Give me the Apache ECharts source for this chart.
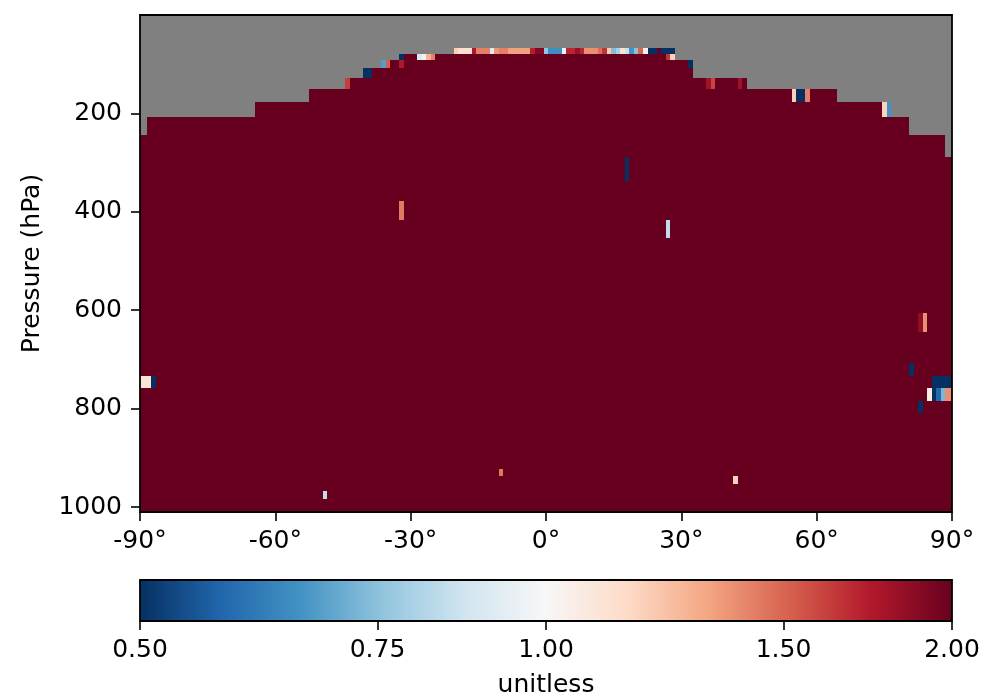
<!DOCTYPE html>
<html><head><meta charset="utf-8">
<script src="https://cdn.jsdelivr.net/npm/echarts@6/dist/echarts.min.js"></script>
<style>html,body{margin:0;padding:0;background:#fff}#c{width:1005px;height:700px}</style>
</head><body><div id="c"></div>
<script>
// ---------------- DATA ----------------
// latitude grid: cell centres every 1 degree from -90 to 90
const latStart = -90, latEnd = 90, latStep = 1;
// model level edge pressures (hPa), surface upward
const pressureEdges = [1013.25, 998.051, 982.765, 967.474, 952.183, 936.893, 921.602, 906.311,
  891.022, 875.731, 860.442, 845.151, 829.862, 809.494, 784.040, 758.586, 733.133, 707.688,
  682.247, 644.105, 605.974, 567.866, 529.778, 491.718, 453.693, 415.704, 377.761, 339.874,
  288.083, 244.875, 208.152, 176.930, 150.393, 127.837, 108.663, 92.366, 78.512, 66.603];
// highest valid level (top edge pressure, hPa) per latitude band [latFrom, latTo, pTop]
const validTop = [[-90, -89, 244.875], [-88, -65, 208.152], [-64, -53, 176.930], [-52, -45, 150.393],
  [-44, -41, 127.837], [-40, -37, 108.663], [-36, -33, 92.366], [-32, -21, 78.512], [-20, 28, 66.603],
  [29, 32, 92.366], [33, 44, 127.837], [45, 64, 150.393], [65, 76, 176.930], [77, 80, 208.152],
  [81, 88, 244.875], [89, 90, 288.083]];
// value of all valid cells not listed below (at/above colour-bar maximum)
const saturatedValue = 2.0;
// cells that differ: [lat, pressure inside the level (hPa), value]
const anomalies = [
  [-20,72,1.18],[-19,72,1.12],[-18,72,1.12],[-17,72,1.12],[-16,72,1.75],[-15,72,1.42],[-14,72,1.42],
  [-13,72,1.42],[-12,72,0.92],[-11,72,1.36],[-10,72,1.42],[-9,72,1.42],[-8,72,1.33],[-7,72,1.33],
  [-6,72,1.33],[-5,72,1.33],[-4,72,1.33],[-3,72,1.72],[-2,72,1.9],[-1,72,1.9],[0,72,0.76],[1,72,0.65],
  [2,72,0.65],[3,72,0.65],[4,72,0.97],[5,72,1.7],[6,72,1.7],[7,72,1.82],[8,72,1.7],[9,72,1.38],
  [10,72,1.38],[11,72,1.38],[12,72,1.48],[13,72,1.65],[14,72,1.2],[15,72,0.74],[16,72,0.8],[17,72,1.1],
  [18,72,0.86],[19,72,0.66],[20,72,0.75],[21,72,1.5],[22,72,1.03],[23,72,0.45],[24,72,0.45],[25,72,2.0],
  [26,72,0.45],[27,72,0.45],[28,72,0.45],
  [-32,85,0.45],[-28,85,0.9],[-27,85,0.97],[-26,85,1.28],[-25,85,1.42],[27,85,1.65],[28,85,1.18],
  [-36,100,0.68],[-35,100,1.52],[-32,100,1.75],[32,100,0.45],
  [-40,118,0.45],[-39,118,0.45],
  [-44,140,1.62],[36,140,1.8],[37,140,1.6],[43,140,1.8],
  [55,165,1.18],[56,165,0.45],[57,165,0.45],[58,165,1.42],
  [75,190,1.17],[76,190,0.66],
  [18,315,0.45],[-32,395,1.44],[27,435,0.84],
  [83,625,1.85],[84,625,1.38],
  [81,720,0.45],
  [-90,745,1.1],[-89,745,1.1],[-88,745,1.1],[-87,745,0.45],[86,745,0.45],[87,745,0.45],[88,745,0.45],[89,745,0.45],[90,745,0.45],
  [85,770,1.05],[86,770,0.45],[87,770,0.58],[88,770,0.73],[89,770,1.38],[90,770,1.38],
  [83,795,0.48],
  [-10,929,1.45],[42,945,1.18],[-49,975,0.84]
];
const xTicks = [-90, -60, -30, 0, 30, 60, 90];
const yTicks = [200, 400, 600, 800, 1000];
const colorbarTicks = [0.5, 0.75, 1.0, 1.5, 2.0];
const colorbarRange = [0.5, 2.0];
const colorbarTitle = 'unitless';
const yTitle = 'Pressure (hPa)';
const rdbuR = ['#053061','#2166ac','#4393c3','#92c5de','#d1e5f0','#f7f7f7','#fddbc7','#f4a582','#d6604d','#b2182b','#67001f'];

// ---------------- helpers ----------------
const FONT = 'DejaVu Sans';
const FS = 25;
const toT = v => Math.log2(v / colorbarRange[0]) / Math.log2(colorbarRange[1] / colorbarRange[0]) * 2; // 0..2
function hex2rgb(h){return [parseInt(h.slice(1,3),16),parseInt(h.slice(3,5),16),parseInt(h.slice(5,7),16)];}
const stopsRGB = rdbuR.map(hex2rgb);
function colorOf(v){
  let t = Math.log(v / colorbarRange[0]) / Math.log(colorbarRange[1] / colorbarRange[0]);
  t = Math.max(0, Math.min(1, t));
  const f = t * (stopsRGB.length - 1);
  const i = Math.min(stopsRGB.length - 2, Math.floor(f));
  const w = f - i;
  const a = stopsRGB[i], b = stopsRGB[i+1];
  return 'rgb(' + [0,1,2].map(k => Math.round(a[k] + (b[k]-a[k])*w)).join(',') + ')';
}
function levelIndex(p){
  for (let k = 0; k < pressureEdges.length - 1; k++) {
    if (p <= pressureEdges[k] && p > pressureEdges[k+1]) return k;
  }
  return -1;
}
const cells = [];
for (let lat = latStart; lat <= latEnd; lat += latStep) {
  const band = validTop.find(b => lat >= b[0] && lat <= b[1]);
  for (let k = 0; k < pressureEdges.length - 1; k++) {
    const pBot = pressureEdges[k], pTop = pressureEdges[k+1];
    if (pTop < band[2] - 0.01) continue;
    const an = anomalies.find(a => a[0] === lat && levelIndex(a[1]) === k);
    const v = an ? an[2] : saturatedValue;
    cells.push([Math.max(latStart, lat - latStep/2), Math.min(latEnd, lat + latStep/2), pTop, pBot, v]);
  }
}

function renderCell(params, api){
  const p0 = api.coord([api.value(0), api.value(2)]);
  const p1 = api.coord([api.value(1), api.value(3)]);
  const x0 = Math.round(p0[0]), x1 = Math.round(p1[0]);
  const y0 = Math.round(p0[1]), y1 = Math.round(p1[1]);
  const cs = params.coordSys;
  const r = echarts.graphic.clipRectByRect(
    {x: x0, y: Math.min(y0,y1), width: x1 - x0, height: Math.abs(y1 - y0)},
    {x: cs.x, y: cs.y, width: cs.width, height: cs.height});
  if (!r) return;
  return {type: 'rect', shape: r, style: {fill: colorOf(api.value(4))}};
}
function renderBar(params, api){
  const p0 = api.coord([api.value(0), 1]);
  const p1 = api.coord([api.value(1), 0]);
  const stops = rdbuR.map((c, i) => ({offset: i / (rdbuR.length - 1), color: c}));
  return {type: 'rect', shape: {x: p0[0], y: p0[1], width: p1[0]-p0[0], height: p1[1]-p0[1]},
    style: {fill: new echarts.graphic.LinearGradient(0, 0, 1, 0, stops), stroke: '#000', lineWidth: 1.8}};
}

const chart = echarts.init(document.getElementById('c'), null, {renderer: 'canvas'});
const axisLine = {show: true, onZero: false, lineStyle: {color: '#000', width: 1.8}};
const tickStyle = {show: true, length: 9, lineStyle: {color: '#000', width: 1.6}};
const labelStyle = {color: '#000', fontFamily: FONT, fontSize: FS};
chart.setOption({
  animation: false,
  backgroundColor: '#fff',
  textStyle: {fontFamily: FONT},
  grid: [
    {left: 140, top: 15, width: 812, height: 497, show: true, backgroundColor: '#808080', borderWidth: 0},
    {left: 140, top: 580, width: 812, height: 41, show: false}
  ],
  xAxis: [
    {type: 'value', gridIndex: 0, min: -90, max: 90, position: 'bottom', z: 10,
     axisLine: axisLine, splitLine: {show: false},
     axisTick: Object.assign({}, tickStyle, {customValues: xTicks}),
     axisLabel: Object.assign({}, labelStyle, {customValues: xTicks, margin: 17, formatter: v => String(v) + '°'})},
    {type: 'value', gridIndex: 0, min: -90, max: 90, position: 'top', z: 10,
     axisLine: axisLine, axisTick: {show: false}, axisLabel: {show: false}, splitLine: {show: false}},
    {type: 'value', gridIndex: 1, min: 0, max: 2, position: 'bottom', z: 10,
     axisLine: {show: false}, splitLine: {show: false},
     axisTick: Object.assign({}, tickStyle, {customValues: colorbarTicks.map(toT)}),
     axisLabel: Object.assign({}, labelStyle, {customValues: colorbarTicks.map(toT), margin: 17,
       formatter: t => (colorbarRange[0] * Math.pow(colorbarRange[1]/colorbarRange[0], t/2)).toFixed(2)}),
     name: colorbarTitle, nameLocation: 'middle', nameGap: 52,
     nameTextStyle: {color: '#000', fontFamily: FONT, fontSize: FS}}
  ],
  yAxis: [
    {type: 'value', gridIndex: 0, min: 0, max: 1010, inverse: true, position: 'left', z: 10,
     axisLine: axisLine, splitLine: {show: false},
     axisTick: Object.assign({}, tickStyle, {customValues: yTicks}),
     axisLabel: Object.assign({}, labelStyle, {customValues: yTicks, margin: 18, formatter: v => String(v)}),
     name: yTitle, nameLocation: 'middle', nameGap: 95, nameRotate: 90,
     nameTextStyle: {color: '#000', fontFamily: FONT, fontSize: FS}},
    {type: 'value', gridIndex: 0, min: 0, max: 1010, inverse: true, position: 'right', z: 10,
     axisLine: axisLine, axisTick: {show: false}, axisLabel: {show: false}, splitLine: {show: false}},
    {type: 'value', gridIndex: 1, min: 0, max: 1, show: false}
  ],
  series: [
    {type: 'custom', xAxisIndex: 0, yAxisIndex: 0, renderItem: renderCell, data: cells, silent: true,
     encode: {x: [0, 1], y: [2, 3]}},
    {type: 'custom', xAxisIndex: 2, yAxisIndex: 2, renderItem: renderBar, silent: true,
     data: [[toT(colorbarRange[0]), toT(colorbarRange[1])]], encode: {x: [0, 1]}}
  ]
});
</script></body></html>
